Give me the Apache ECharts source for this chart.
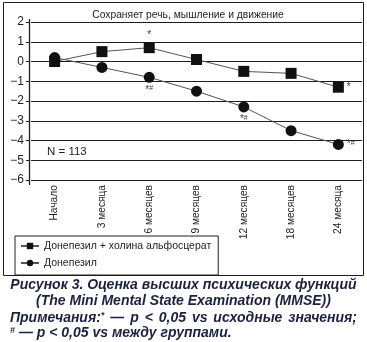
<!DOCTYPE html>
<html>
<head>
<meta charset="utf-8">
<script src="https://cdn.jsdelivr.net/npm/echarts@6/dist/echarts.min.js"></script>
<style>
  html, body { margin: 0; padding: 0; background: #fff; }
  #chart { width: 367px; height: 342px; }
</style>
</head>
<body>
<div id="chart"></div>
<script>
// MMSE change from baseline, by visit
const categories = ['Начало', '3 месяца', '6 месяцев', '9 месяцев', '12 месяцев', '18 месяцев', '24 месяца'];
const comboName = 'Донепезил + холина альфосцерат';
const monoName = 'Донепезил';
const comboValues = [0, 0.5, 0.7, 0.1, -0.5, -0.6, -1.3];
const monoValues = [0.2, -0.3, -0.8, -1.5, -2.3, -3.5, -4.2];
// significance marks: * vs baseline, # between groups
const comboMarks = ['', '', '*', '', '', '', '*'];
const monoMarks = ['', '', '*#', '', '*#', '', '*#'];
const yMin = -6, yMax = 2, yStep = 1;

const FONT = '"Liberation Sans", Arial, sans-serif';
const INK = '#1e1e1e';
const NAVY = '#1c2140';
const MARK = '#2f3c6e';

function withMarks(values, marks, sidePos) {
  return values.map((v, i) => {
    if (!marks[i]) return v;
    const last = i === values.length - 1;
    return {
      value: v,
      label: {
        show: true,
        position: last ? 'right' : sidePos,
        distance: last ? 3 : 2,
        formatter: marks[i].replace('#', '{s|#}'),
        color: MARK,
        fontFamily: FONT,
        fontSize: 10,
        rich: { s: { fontSize: 7, verticalAlign: 'top', color: MARK, padding: [0, 0, 3, 0] } }
      }
    };
  });
}

const chart = echarts.init(document.getElementById('chart'), null, { renderer: 'canvas' });

// text measuring for the justified caption line
const measureCtx = document.createElement('canvas').getContext('2d');
const capFont = 'italic bold 14px ' + FONT;
const supFont = 'italic bold 9px ' + FONT;
function textWidth(t, font) { measureCtx.font = font; return measureCtx.measureText(t).width; }

function justifiedLine(words, x0, x1, y) {
  const widths = words.map(w => textWidth(w.replace(/[*#]$/, ''), capFont) + (/[*#]$/.test(w) ? textWidth('*', supFont) : 0));
  const total = widths.reduce((a, b) => a + b, 0);
  const gap = (x1 - x0 - total) / (words.length - 1);
  let x = x0;
  return words.map((w, i) => {
    const el = {
      type: 'text', left: x, top: y,
      style: {
        text: w.replace(/([*#])$/, '{sup|$1}'),
        font: capFont, fill: NAVY,
        rich: { sup: { font: supFont, fill: NAVY, verticalAlign: 'top' } }
      }
    };
    x += widths[i] + gap;
    return el;
  });
}

const option = {
  animation: false,
  backgroundColor: '#fff',
  grid: { left: 31, top: 22, width: 331, height: 158, containLabel: false },
  title: {
    text: 'Сохраняет речь, мышление и движение',
    left: 183, top: 5, textAlign: 'center',
    textStyle: { fontFamily: FONT, fontSize: 10.3, fontWeight: 'normal', color: INK }
  },
  legend: {
    orient: 'vertical',
    left: 15, top: 236,
    padding: [4, 7, 6, 5],
    itemGap: 5,
    itemWidth: 18, itemHeight: 8,
    borderColor: INK, borderWidth: 1,
    textStyle: { fontFamily: FONT, fontSize: 10.5, color: INK, lineHeight: 12 },
    data: [comboName, monoName]
  },
  xAxis: {
    type: 'category',
    data: categories,
    boundaryGap: true,
    axisLine: { show: false },
    axisTick: { show: false },
    axisLabel: { rotate: 90, margin: 5, fontFamily: FONT, fontSize: 10.2, color: INK, interval: 0 }
  },
  yAxis: {
    type: 'value',
    min: yMin, max: yMax, interval: yStep,
    offset: 2,
    axisLine: { show: false },
    axisTick: { show: true, length: 3, lineStyle: { color: INK } },
    axisLabel: {
      margin: 5, fontFamily: FONT, fontSize: 12, color: INK,
      formatter: v => String(v).replace('-', '−')
    },
    splitLine: { show: true, lineStyle: { color: INK, width: 1 } }
  },
  series: [
    {
      name: monoName,
      type: 'line',
      data: withMarks(monoValues, monoMarks, 'bottom'),
      symbol: 'circle', symbolSize: 11,
      itemStyle: { color: '#111' },
      lineStyle: { color: '#555', width: 1 },
      z: 2
    },
    {
      name: comboName,
      type: 'line',
      data: withMarks(comboValues, comboMarks, 'top'),
      symbol: 'rect', symbolSize: 11,
      itemStyle: { color: '#111' },
      lineStyle: { color: '#555', width: 1 },
      z: 3
    }
  ],
  graphic: [
    // outer frame
    { type: 'rect', shape: { x: 3.5, y: 2.5, width: 360, height: 273 },
      style: { fill: 'none', stroke: INK, lineWidth: 1 }, z: 0 },
    // vertical axis line, running slightly past the scale ends
    { type: 'line', shape: { x1: 29.5, y1: 19, x2: 29.5, y2: 185 },
      style: { stroke: INK, lineWidth: 1.3 }, z: 5 },
    { type: 'text', left: 47, top: 146,
      style: { text: 'N = 113', font: '11.5px ' + FONT, fill: INK } },
    // caption
    { type: 'text', left: 'center', top: 278,
      style: { text: 'Рисунок 3. Оценка высших психических функций', font: capFont, fill: NAVY } },
    { type: 'text', left: 'center', top: 294,
      style: { text: '(The Mini Mental State Examination (MMSE))', font: capFont, fill: NAVY } },
    ...justifiedLine(['Примечания:*', '—', 'p', '<', '0,05', 'vs', 'исходные', 'значения;'], 10, 357, 311),
    { type: 'text', left: 10, top: 326,
      style: {
        text: '{sup|#} — p < 0,05 vs между группами.',
        font: capFont, fill: NAVY,
        rich: { sup: { font: supFont, fill: NAVY, verticalAlign: 'top' } }
      } }
  ]
};

chart.setOption(option);
</script>
</body>
</html>
